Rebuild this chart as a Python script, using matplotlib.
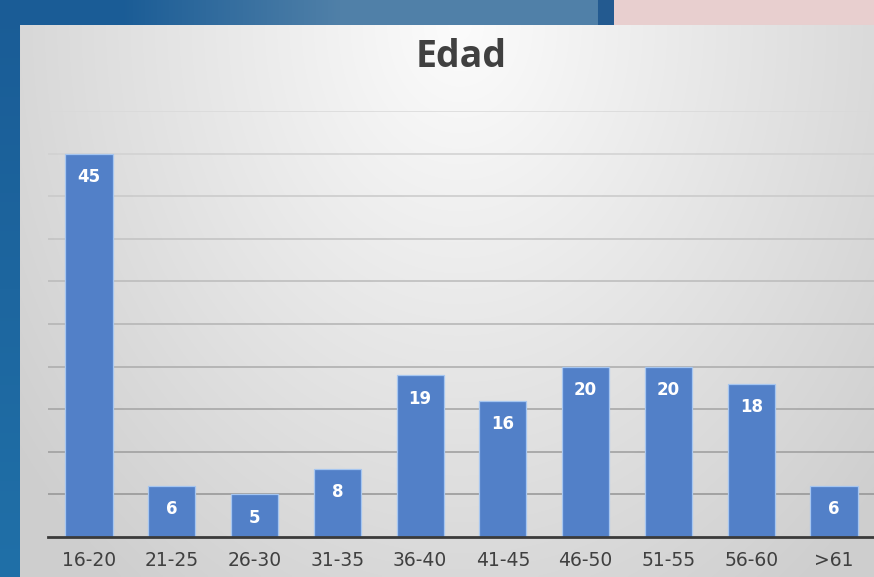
import numpy as np
import matplotlib.pyplot as plt

# --- Data ---
categories = ["16-20", "21-25", "26-30", "31-35", "36-40",
              "41-45", "46-50", "51-55", "56-60", ">61"]
counts = [45, 6, 5, 8, 19, 16, 20, 20, 18, 6]
title = "Edad"

W, H = 874, 577
fig = plt.figure(figsize=(W / 100, H / 100), dpi=100)

# --- Background: slide backdrop + radial gray panel ---
yy, xx = np.mgrid[0:H, 0:W]
d = np.sqrt(((xx - 460) / 440.0) ** 2 + ((yy - 25) / 560.0) ** 2)
gray = np.clip(252 - 36 * d, 206, 252)
img = np.dstack([gray, gray, gray])

# blue column on the left
t = yy / H
blue_l = np.dstack([26 + 6 * t, 92 + 20 * t, 150 + 18 * t])
left = xx < 20
img[left] = blue_l[left]

# top strip: blue gradient, then pink
top = (yy < 25) & (xx >= 20)
u = np.clip((xx - 120) / 220.0, 0, 1)
strip = np.dstack([26 + 54 * u, 92 + 36 * u, 150 + 18 * u])
img[top] = strip[top]
img[(yy < 25) & (xx >= 598) & (xx < 614)] = [35, 90, 144]
img[(yy < 25) & (xx >= 614)] = [232, 207, 207]

bg = fig.add_axes([0, 0, 1, 1])
bg.imshow(img.astype(np.uint8), aspect="auto", interpolation="bilinear")
bg.axis("off")

# --- Chart ---
ax = fig.add_axes([47.6 / W, 40 / H, 827.8 / W, 426 / H])
ax.patch.set_alpha(0)
x = np.arange(len(categories))

for yv in range(5, 55, 5):
    g = 0.55 + 0.30 * (yv / 50)
    ax.axhline(yv, color=(g, g, g), lw=1.1, zorder=0)

bars = ax.bar(x, counts, width=0.57, color="#5280c8",
              edgecolor="#a6c6f0", linewidth=0.9, zorder=2)

for xi, v in zip(x, counts):
    ax.annotate(str(v), (xi, v), xytext=(0, -17), textcoords="offset points",
                ha="center", va="center", color="white",
                fontsize=12, fontweight="bold", family="DejaVu Sans")

ax.set_xlim(-0.5, len(categories) - 0.5)
ax.set_ylim(0, 50)
ax.set_xticks(x)
ax.set_xticklabels(categories, fontsize=13.5, color="#404040",
                   family="DejaVu Sans")
ax.tick_params(axis="x", length=0, pad=10)
ax.set_yticks([])
for s in ["top", "right", "left"]:
    ax.spines[s].set_visible(False)
ax.spines["bottom"].set_color("#3a3a3a")
ax.spines["bottom"].set_linewidth(2)
ax.spines["bottom"].set_zorder(3)

fig.text(461 / W, 1 - 57 / H, title, ha="center", va="center",
         fontsize=27, fontweight="bold", color="#404040", family="Open Sans")

fig.savefig("out.png", dpi=100)
